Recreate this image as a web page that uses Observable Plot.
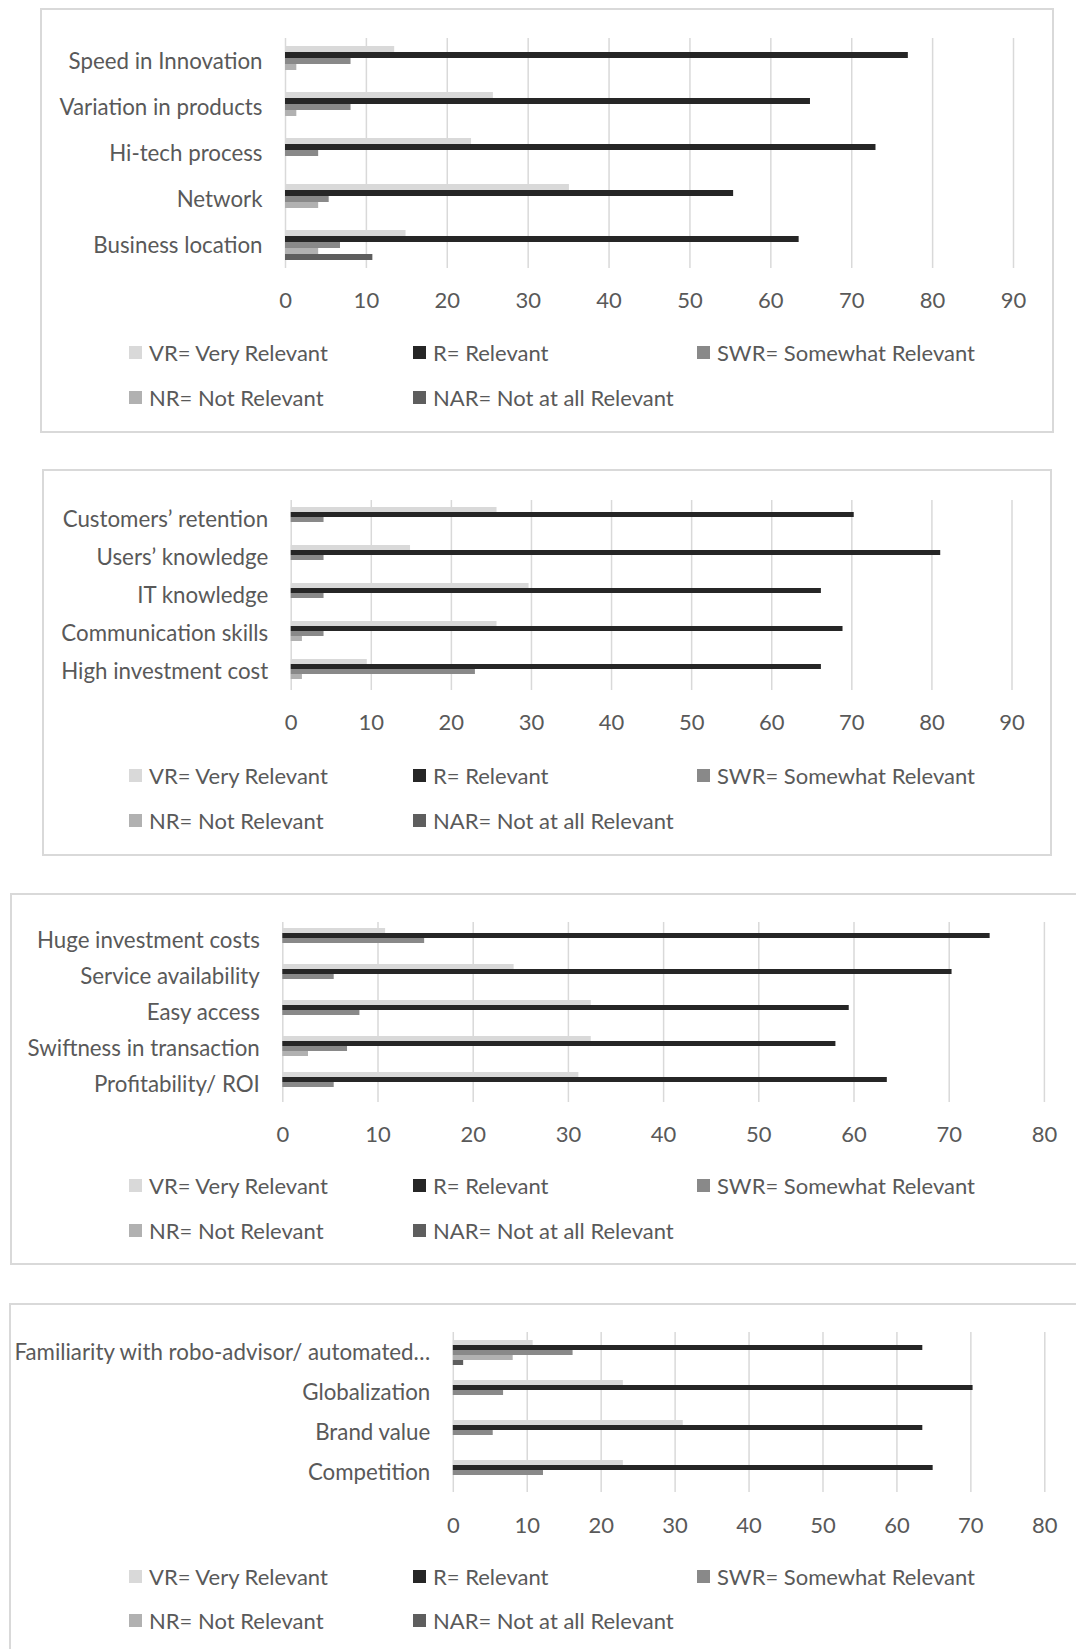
<!DOCTYPE html>
<html>
<head>
<meta charset="utf-8">
<script src="https://cdn.jsdelivr.net/npm/d3@7"></script>
<script src="https://cdn.jsdelivr.net/npm/@observablehq/plot@0.6"></script>
<style>
  html, body { margin: 0; padding: 0; background: #fff; }
  #root { position: relative; width: 1076px; height: 1649px; overflow: hidden; font-family: Lato, sans-serif; color: #595959; }
  .box { position: absolute; border: 2px solid #d9d9d9; box-sizing: border-box; }
  .chart { position: absolute; left: 0; }
  .chart svg { overflow: visible; }
  .leg { position: absolute; display: flex; align-items: center; height: 26px; font-size: 22px; white-space: nowrap; }
  .sw { width: 13px; height: 13px; margin-right: 7px; flex: none; }
</style>
</head>
<body>
<div id="root"></div>
<script>
// ---------- data ----------
const seriesKeys = ["VR", "R", "SWR", "NR", "NAR"];
const seriesLabels = ["VR= Very Relevant", "R= Relevant", "SWR= Somewhat Relevant", "NR= Not Relevant", "NAR= Not at all Relevant"];
const seriesColors = ["#d9d9d9", "#262626", "#898989", "#b1b1b1", "#5e5e5e"];

// Panel 1
const cats1 = ["Speed in Innovation", "Variation in products", "Hi-tech process", "Network", "Business location"];
const vr1  = [13.5, 25.7, 23.0, 35.1, 14.9];
const r1   = [77.0, 64.9, 73.0, 55.4, 63.5];
const swr1 = [8.1, 8.1, 4.1, 5.4, 6.8];
const nr1  = [1.4, 1.4, 0, 4.1, 4.1];
const nar1 = [0, 0, 0, 0, 10.8];
const ticks1 = [0, 10, 20, 30, 40, 50, 60, 70, 80, 90];

// Panel 2
const cats2 = ["Customers’ retention", "Users’ knowledge", "IT knowledge", "Communication skills", "High investment cost"];
const vr2  = [25.7, 14.9, 29.7, 25.7, 9.5];
const r2   = [70.3, 81.1, 66.2, 68.9, 66.2];
const swr2 = [4.1, 4.1, 4.1, 4.1, 23.0];
const nr2  = [0, 0, 0, 1.4, 1.4];
const nar2 = [0, 0, 0, 0, 0];
const ticks2 = [0, 10, 20, 30, 40, 50, 60, 70, 80, 90];

// Panel 3
const cats3 = ["Huge investment costs", "Service availability", "Easy access", "Swiftness in transaction", "Profitability/ ROI"];
const vr3  = [10.8, 24.3, 32.4, 32.4, 31.1];
const r3   = [74.3, 70.3, 59.5, 58.1, 63.5];
const swr3 = [14.9, 5.4, 8.1, 6.8, 5.4];
const nr3  = [0, 0, 0, 2.7, 0];
const nar3 = [0, 0, 0, 0, 0];
const ticks3 = [0, 10, 20, 30, 40, 50, 60, 70, 80];

// Panel 4
const cats4 = ["Familiarity with robo-advisor/ automated…", "Globalization", "Brand value", "Competition"];
const vr4  = [10.8, 23.0, 31.1, 23.0];
const r4   = [63.5, 70.3, 63.5, 64.9];
const swr4 = [16.2, 6.8, 5.4, 12.2];
const nr4  = [8.1, 0, 0, 0];
const nar4 = [1.4, 0, 0, 0];
const ticks4 = [0, 10, 20, 30, 40, 50, 60, 70, 80];

// ---------- layout (pixels) ----------
const layout = [
  {cats: cats1, vals: [vr1, r1, swr1, nr1, nar1], ticks: ticks1,
   box: [40, 8, 1014, 425], x0: 285, x1: 1013, yTop: 37, yBot: 269, tickPad: 24, legRows: [352.5, 397]},
  {cats: cats2, vals: [vr2, r2, swr2, nr2, nar2], ticks: ticks2,
   box: [42, 469, 1010, 387], x0: 290.7, x1: 1011.5, yTop: 499.3, yBot: 691.8, tickPad: 24, legRows: [775, 820]},
  {cats: cats3, vals: [vr3, r3, swr3, nr3, nar3], ticks: ticks3,
   box: [10, 893, 1100, 372], x0: 282.3, x1: 1043.9, yTop: 921.8, yBot: 1101.8, tickPad: 24, legRows: [1185, 1230]},
  {cats: cats4, vals: [vr4, r4, swr4, nr4, nar4], ticks: ticks4,
   box: [9, 1303, 1100, 420], x0: 452.8, x1: 1044.3, yTop: 1332, yBot: 1492, tickPad: 25, legRows: [1576, 1620.5]}
];
const legCols = [129, 413, 697];

const root = document.getElementById("root");

function toRows(cats, vals) {
  const rows = [];
  cats.forEach((c, i) => seriesKeys.forEach((s, j) => rows.push({category: c, series: s, value: vals[j][i]})));
  return rows;
}

for (const p of layout) {
  // panel frame
  const box = document.createElement("div");
  box.className = "box";
  box.style.left = p.box[0] + "px"; box.style.top = p.box[1] + "px";
  box.style.width = p.box[2] + "px"; box.style.height = p.box[3] + "px";
  root.appendChild(box);

  const mTop = 10, mBot = 60;
  const W = 1076;
  const H = mTop + (p.yBot - p.yTop) + mBot;
  const rows = toRows(p.cats, p.vals);
  const xmax = p.ticks[p.ticks.length - 1];

  const chart = Plot.plot({
    width: W,
    height: H,
    marginTop: mTop,
    marginBottom: mBot,
    marginLeft: p.x0,
    marginRight: W - p.x1,
    style: {fontFamily: "Lato, sans-serif", fontSize: "22px", color: "#595959", background: "transparent"},
    x: {domain: [0, xmax], ticks: p.ticks, tickSize: 0, tickPadding: p.tickPad, label: null, tickFormat: d => String(d)},
    y: {domain: seriesKeys, axis: null, paddingInner: 0, paddingOuter: 1},
    fy: {domain: p.cats, padding: 0, axis: null, label: null},
    color: {domain: seriesKeys, range: seriesColors},
    marks: [
      Plot.ruleX(p.ticks, {stroke: "#d9d9d9", strokeWidth: 1.5}),
      Plot.barX(rows, {x1: 0, x2: "value", y: "series", fy: "category", fill: "series"}),
      Plot.text(p.cats, {fy: d => d, text: d => d, frameAnchor: "left", dx: -23, textAnchor: "end", fill: "#595959", fontSize: 22.3})
    ]
  });
  const wrap = document.createElement("div");
  wrap.className = "chart";
  wrap.style.top = (p.yTop - mTop) + "px";
  wrap.appendChild(chart);
  root.appendChild(wrap);

  // legend
  seriesLabels.forEach((lab, i) => {
    const row = i < 3 ? 0 : 1;
    const col = i < 3 ? i : i - 3;
    const item = document.createElement("div");
    item.className = "leg";
    item.style.left = legCols[col] + "px";
    item.style.top = (p.legRows[row] - 13) + "px";
    const sw = document.createElement("span");
    sw.className = "sw";
    sw.style.background = seriesColors[i];
    const tx = document.createElement("span");
    tx.textContent = lab;
    item.appendChild(sw); item.appendChild(tx);
    root.appendChild(item);
  });
}
</script>
</body>
</html>
